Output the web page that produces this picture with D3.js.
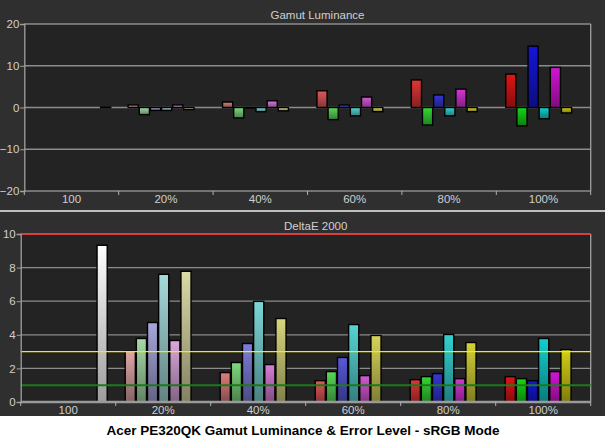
<!DOCTYPE html>
<html>
<head>
<meta charset="utf-8">
<script src="https://cdn.jsdelivr.net/npm/d3@7"></script>
<style>
  html, body { margin: 0; padding: 0; background: #ffffff; }
  svg { display: block; }
</style>
</head>
<body>
<svg id="chart" width="605" height="441"></svg>
<script>
// ---------- DATA ----------
const categories = ["100", "20%", "40%", "60%", "80%", "100%"];
const saturation = [0, 0.2, 0.4, 0.6, 0.8, 1.0];
const seriesNames = ["Red", "Green", "Blue", "Cyan", "Magenta", "Yellow", "White"];

// Gamut Luminance (per series, per category; null = no bar)
const lumRed     = [null, 0.6, 1.3, 4.0, 6.6, 8.0];
const lumGreen   = [null, -1.7, -2.5, -2.9, -4.2, -4.4];
const lumBlue    = [null, -0.7, -0.1, 0.6, 3.0, 14.7];
const lumCyan    = [null, -0.7, -1.0, -2.0, -2.0, -2.7];
const lumMagenta = [null, 0.6, 1.6, 2.5, 4.4, 9.6];
const lumYellow  = [null, -0.5, -0.8, -1.0, -1.0, -1.3];
const lumWhite   = [0.1, null, null, null, null, null];

// DeltaE 2000
const deRed     = [null, 3.02, 1.75, 1.27, 1.33, 1.51];
const deGreen   = [null, 3.78, 2.35, 1.81, 1.51, 1.39];
const deBlue    = [null, 4.73, 3.48, 2.65, 1.69, 1.27];
const deCyan    = [null, 7.60, 5.99, 4.61, 4.02, 3.78];
const deMagenta = [null, 3.66, 2.23, 1.57, 1.39, 1.81];
const deYellow  = [null, 7.78, 4.97, 3.96, 3.54, 3.12];
const deWhite   = [9.33, null, null, null, null, null];

const lumTicks = [-20, -10, 0, 10, 20];
const deTicks = [0, 2, 4, 6, 8, 10];
const deRefLines = [10, 3, 1];

const title1 = "Gamut Luminance";
const title2 = "DeltaE 2000";
const caption = "Acer PE320QK Gamut Luminance & Error Level - sRGB Mode";

// ---------- STYLE ----------
const primaries = {Red: "#d41414", Green: "#14cc14", Blue: "#1414cc", Cyan: "#12c4c4", Magenta: "#c814c8", Yellow: "#c8c414", White: "#f8f8f8"};
const pastelBase = "#d2d2d2";
const outerBg = "#2f2f2f", plotBg = "#232323", gridCol = "#8c8c8c", textCol = "#cfcfcf";
const font = "'Liberation Sans', Arial, sans-serif";

const lumSeries = [lumRed, lumGreen, lumBlue, lumCyan, lumMagenta, lumYellow, lumWhite];
const deSeries = [deRed, deGreen, deBlue, deCyan, deMagenta, deYellow, deWhite];

function colorFor(sName, ci) {
  if (sName === "White") return primaries.White;
  const t = Math.pow(saturation[ci], 0.8);
  return d3.color(d3.interpolateRgb(pastelBase, primaries[sName])(t)).formatHex();
}

function buildRows(seriesArr) {
  const rows = [];
  seriesArr.forEach((arr, si) => {
    arr.forEach((v, ci) => {
      if (v !== null) rows.push({cat: categories[ci], ci, si, name: seriesNames[si], value: v, color: colorFor(seriesNames[si], ci)});
    });
  });
  return rows;
}

const svg = d3.select("#chart");
svg.append("rect").attr("width", 605).attr("height", 441).attr("fill", outerBg);
const defs = svg.append("defs");
const gradCache = {};
function gradId(color) {
  const key = "g" + color.replace("#", "");
  if (!gradCache[key]) {
    gradCache[key] = true;
    const g = defs.append("linearGradient").attr("id", key).attr("x1", 0).attr("y1", 0).attr("x2", 0).attr("y2", 1);
    g.append("stop").attr("offset", "0%").attr("stop-color", d3.color(color).brighter(0.15).formatHex());
    g.append("stop").attr("offset", "100%").attr("stop-color", d3.color(color).darker(1.3).formatHex());
  }
  return "url(#" + key + ")";
}

function drawPanel(cfg) {
  const {x0, x1, yTop, yBot, domain, ticks, rows, title, titleY, labelY} = cfg;
  const g = svg.append("g");
  const x = d3.scaleBand().domain(categories).range([x0, x1]);
  const bw = x.bandwidth();
  const inner = d3.scaleBand().domain(d3.range(7)).range([bw * 0.1, bw * 0.1 + 77]).paddingInner(0.09);
  const y = d3.scaleLinear().domain(domain).range([yBot, yTop]);

  g.append("rect").attr("x", x0).attr("y", yTop).attr("width", x1 - x0).attr("height", yBot - yTop).attr("fill", plotBg);

  // grid
  g.selectAll("line.grid").data(ticks).join("line")
    .attr("x1", x0).attr("x2", x1).attr("y1", d => y(d)).attr("y2", d => y(d))
    .attr("stroke", gridCol).attr("stroke-width", 1.3);
  // right border
  g.append("line").attr("x1", x1).attr("x2", x1).attr("y1", yTop).attr("y2", yBot).attr("stroke", "#a0a0a0").attr("stroke-width", 1.3);

  // bars
  g.selectAll("rect.bar").data(rows).join("rect")
    .attr("x", d => x(d.cat) + inner(d.si))
    .attr("width", inner.bandwidth())
    .attr("y", d => y(Math.max(0, d.value)))
    .attr("height", d => Math.max(0.6, Math.abs(y(d.value) - y(0))))
    .attr("fill", d => gradId(d.color))
    .attr("stroke", "#000").attr("stroke-width", 1.4);

  if (cfg.after) cfg.after(g, y, x0, x1);

  // y axis
  const yAxis = d3.axisLeft(y).tickValues(ticks).tickSize(4).tickPadding(1).tickFormat(d3.format("d"));
  const ya = g.append("g").attr("transform", `translate(${x0},0)`).call(yAxis);
  ya.select(".domain").attr("stroke", "#a0a0a0").attr("stroke-width", 1.3);
  ya.selectAll(".tick line").attr("stroke", "#a0a0a0");
  ya.selectAll("text").attr("fill", textCol).attr("font-size", 11.5).attr("font-family", font);

  // x axis: tick marks at band boundaries
  const bounds = categories.map(c => x(c)).concat([x1]);
  g.selectAll("line.xt").data(bounds).join("line")
    .attr("x1", d => d).attr("x2", d => d).attr("y1", yBot).attr("y2", yBot + 4)
    .attr("stroke", "#b0b0b0").attr("stroke-width", 1);
  g.selectAll("text.xl").data(categories).join("text")
    .attr("x", d => x(d) + bw / 2).attr("y", labelY)
    .attr("text-anchor", "middle").attr("fill", textCol)
    .attr("font-size", 11.5).attr("font-family", font).text(d => d);

  // title
  g.append("text").attr("x", (x0 + x1) / 2 + 10).attr("y", titleY).attr("text-anchor", "middle")
    .attr("fill", textCol).attr("font-size", 11.5).attr("font-family", font).text(title);
}

// top panel
drawPanel({
  x0: 24.3, x1: 590.7, yTop: 24, yBot: 191, domain: [-20, 20], ticks: lumTicks,
  rows: buildRows(lumSeries), title: title1, titleY: 19, labelY: 203
});

// bottom panel
drawPanel({
  x0: 20.7, x1: 590.7, yTop: 234, yBot: 402, domain: [0, 10], ticks: deTicks,
  rows: buildRows(deSeries), title: title2, titleY: 230, labelY: 414,
  after: (g, y, x0, x1) => {
    g.append("line").attr("x1", x0).attr("x2", x1).attr("y1", y(deRefLines[1])).attr("y2", y(deRefLines[1]))
      .attr("stroke", "#eeee10").attr("stroke-width", 1.4);
    g.append("line").attr("x1", x0).attr("x2", x1).attr("y1", y(deRefLines[2])).attr("y2", y(deRefLines[2]))
      .attr("stroke", "#1c7a1c").attr("stroke-width", 2);
    g.append("line").attr("x1", x0).attr("x2", x1).attr("y1", y(0)).attr("y2", y(0))
      .attr("stroke", "#9a9a9a").attr("stroke-width", 2.5);
    g.append("line").attr("x1", x0).attr("x2", x1).attr("y1", y(deRefLines[0])).attr("y2", y(deRefLines[0]))
      .attr("stroke", "#d84040").attr("stroke-width", 2.2);
  }
});

// separator line
svg.append("line").attr("x1", 0).attr("x2", 605).attr("y1", 211).attr("y2", 211).attr("stroke", "#f0f0f0").attr("stroke-width", 1.5);

// caption strip
svg.append("rect").attr("x", 0).attr("y", 416).attr("width", 605).attr("height", 25).attr("fill", "#ffffff");
svg.append("text").attr("x", 303).attr("y", 435).attr("text-anchor", "middle")
  .attr("font-family", font).attr("font-weight", "bold").attr("font-size", 13.5).attr("fill", "#000")
  .text(caption);
</script>
</body>
</html>
